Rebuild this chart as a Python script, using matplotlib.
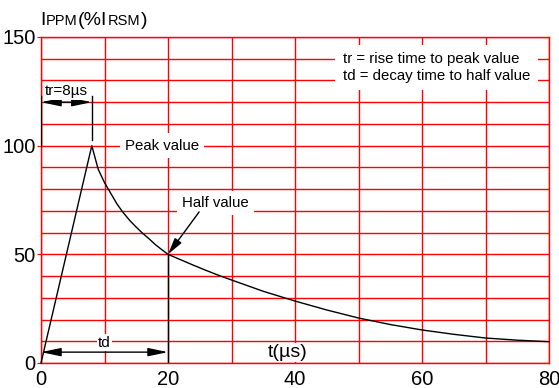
import matplotlib.pyplot as plt

# 8/20 us pulse waveform
t_us = [0, 8, 9, 10, 11, 12, 13, 14, 15, 16, 17, 18, 19, 20, 22, 24, 26, 28, 30,
        35, 40, 45, 50, 55, 60, 65, 70, 75, 80]
ipp_pct = [0, 100, 89.2, 83, 78, 73, 69, 65.5, 62.5, 59.7, 57.2, 54.5, 52.2, 50,
           47.5, 45, 42.6, 40.3, 38.2, 33, 28.5, 24.4, 20.7, 17.7, 15.2, 13.2,
           11.5, 10.5, 9.8]

x_ticks = [0, 20, 40, 60, 80]
y_ticks = [0, 50, 100, 150]
rise_time = 8
decay_time = 20

font = 'Liberation Sans'
W, H = 559, 388

fig = plt.figure(figsize=(W / 100, H / 100), dpi=100)
ax = fig.add_axes([41 / W, 25 / H, 508 / W, 326 / H])
ax.set_xlim(0, 80)
ax.set_ylim(0, 150)

# red grid every 10 units
ax.set_xticks(x_ticks)
ax.set_yticks(y_ticks)
ax.set_xticks(range(0, 81, 10), minor=True)
ax.set_yticks(range(0, 151, 10), minor=True)
ax.grid(True, which='both', color='#ff0000', lw=1)
ax.set_axisbelow(True)
for s in ax.spines.values():
    s.set_color('#ff0000')
    s.set_linewidth(1)
ax.tick_params(which='minor', length=0)
ax.tick_params(axis='x', which='major', length=0, pad=5)
ax.tick_params(axis='y', which='major', length=3, color='#ff0000', pad=1)
for lab in ax.get_xticklabels() + ax.get_yticklabels():
    lab.set_fontfamily(font)
    lab.set_fontsize(14.5)

# waveform
ax.plot(t_us, ipp_pct, color='k', lw=1, clip_on=False, zorder=3)

white = dict(boxstyle='square,pad=0.35', fc='white', ec='none')

# rise time dimension
ax.plot([rise_time, rise_time], [102.5, 123], color='k', lw=1, zorder=3)
ax.plot([0, 0], [100, 123], color='k', lw=1, zorder=3)
ax.annotate('', xy=(0, 120), xytext=(rise_time, 120),
            arrowprops=dict(arrowstyle='<|-|>,head_length=1.2,head_width=0.25',
                            color='k', lw=1, shrinkA=0, shrinkB=0), zorder=4)
ax.text(0.6, 125, 'tr=8µs', fontsize=11, family=font, va='center', ha='left',
        bbox=dict(boxstyle='square,pad=0.1', fc='white', ec='none'), zorder=4)

# decay time dimension
ax.plot([decay_time, decay_time], [0, 50], color='k', lw=1, zorder=3)
ax.annotate('', xy=(0, 5), xytext=(decay_time, 5),
            arrowprops=dict(arrowstyle='<|-|>,head_length=1.2,head_width=0.25',
                            color='k', lw=1, shrinkA=0, shrinkB=0), zorder=4)
ax.text(10, 9.3, 'td', fontsize=11, family=font, va='center', ha='center',
        bbox=dict(boxstyle='square,pad=0.1', fc='white', ec='none'), zorder=4)

# labels
ax.text(13.2, 100, 'Peak value', fontsize=10.8, family=font, va='center', ha='left',
        bbox=white, zorder=4)
ax.text(22.2, 73.6, 'Half value', fontsize=10.8, family=font, va='center', ha='left',
        bbox=white, zorder=4)
ax.annotate('', xy=(decay_time, 50), xytext=(24.9, 69.5),
            arrowprops=dict(arrowstyle='-|>,head_length=1.0,head_width=0.25',
                            color='k', lw=1, shrinkA=0, shrinkB=0), zorder=4)

ax.text(47.5, 136, 'tr = rise time to peak value\ntd = decay time to half value',
        fontsize=10.8, family=font, va='center', ha='left', linespacing=1.25,
        bbox=dict(boxstyle='square,pad=0.5', fc='white', ec='none'), zorder=4)

ax.text(38.8, 5, 't(µs)', fontsize=14, family=font, va='center', ha='center',
        bbox=dict(boxstyle='square,pad=0.05', fc='white', ec='none'), zorder=4)

# y axis title built from pieces (small caps on the baseline), chained left to right
parts = [('I', 14), ('PPM', 10.5), ('(%I', 14), ('RSM', 10.5), (')', 14)]
renderer = fig.canvas.get_renderer()
px = 40
for txt, size in parts:
    t = fig.text(px / W, 1 - 25 / H, txt, fontsize=size, family=font, va='baseline')
    px = t.get_window_extent(renderer).x1 + 0.5

fig.savefig('out.png', dpi=100)
